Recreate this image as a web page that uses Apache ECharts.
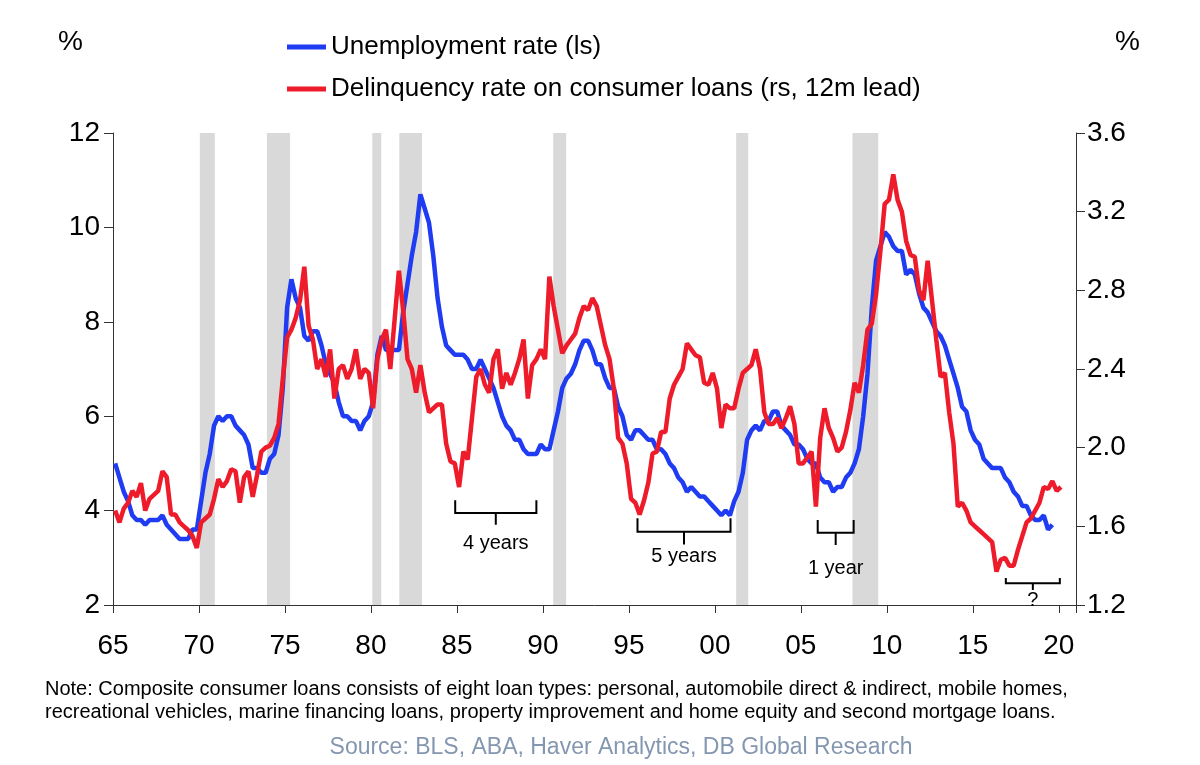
<!DOCTYPE html>
<html><head><meta charset="utf-8">
<script src="https://cdn.jsdelivr.net/npm/echarts@6/dist/echarts.min.js"></script>
<style>html,body{margin:0;padding:0;background:#fff}#c{width:1200px;height:765px}</style>
</head><body><div id="c"></div>
<script>
// ---- data ----
const FIRST_YEAR = 1965;             // first quarter of both series
const xTickLabels = ['65','70','75','80','85','90','95','00','05','10','15','20'];

// US unemployment rate, %, quarterly (left scale)
const unemployment = [
 5.0,4.7,4.4,4.2, 3.9,3.8,3.8,3.7, 3.8,3.8,3.8,3.9, 3.7,3.6,3.5,3.4, 3.4,3.4,3.6,3.6,
 4.2,4.8,5.2,5.8, 6.0,5.9,6.0,6.0, 5.8,5.7,5.6,5.4, 4.9,4.9,4.8,4.8, 5.1,5.2,5.6,6.6,
 8.3,8.9,8.5,8.3, 7.7,7.6,7.8,7.8, 7.5,7.1,6.9,6.7, 6.3,6.0,6.0,5.9, 5.9,5.7,5.9,6.0,
 6.3,7.3,7.7,7.4, 7.4,7.4,7.4,8.2, 8.8,9.4,9.9,10.7, 10.4,10.1,9.4,8.5, 7.9,7.5,7.4,7.3,
 7.3,7.3,7.2,7.0, 7.0,7.2,7.0,6.8, 6.6,6.3,6.0,5.8, 5.7,5.5,5.5,5.3, 5.2,5.2,5.2,5.4,
 5.3,5.3,5.7,6.1, 6.6,6.8,6.9,7.1, 7.4,7.6,7.6,7.4, 7.1,7.1,6.8,6.6, 6.6,6.2,6.0,5.6,
 5.5,5.7,5.7,5.6, 5.5,5.5,5.3,5.3, 5.2,5.0,4.9,4.7, 4.6,4.4,4.5,4.4, 4.3,4.3,4.2,4.1,
 4.0,3.9,4.0,3.9, 4.2,4.4,4.8,5.5, 5.7,5.8,5.7,5.9, 5.9,6.1,6.1,5.8, 5.7,5.6,5.4,5.4,
 5.3,5.1,5.0,5.0, 4.7,4.6,4.6,4.4, 4.5,4.5,4.7,4.8, 5.0,5.3,6.0,6.9, 8.3,9.3,9.6,9.9,
 9.8,9.6,9.5,9.5, 9.0,9.1,9.0,8.6, 8.3,8.2,8.0,7.8, 7.7,7.5,7.2,6.9, 6.6,6.2,6.1,5.7,
 5.5,5.4,5.1,5.0, 4.9,4.9,4.9,4.7, 4.6,4.4,4.3,4.1, 4.1,3.9,3.8,3.8, 3.9,3.6,3.7
];

// Delinquency rate on consumer loans, %, quarterly, 12m lead (right scale)
const delinquency = [
 1.68,1.62,1.69,1.72, 1.78,1.75,1.82,1.68, 1.74,1.76,1.78,1.88, 1.85,1.66,1.66,1.62, 1.60,1.58,1.55,1.49,
 1.62,1.64,1.66,1.74, 1.84,1.80,1.83,1.89, 1.88,1.72,1.85,1.88, 1.75,1.86,1.98,2.00, 2.01,2.05,2.12,2.35,
 2.56,2.60,2.66,2.75, 2.92,2.62,2.55,2.40, 2.45,2.36,2.50,2.25, 2.40,2.42,2.35,2.40, 2.50,2.35,2.40,2.38,
 2.20,2.45,2.55,2.60, 2.40,2.65,2.90,2.70, 2.45,2.40,2.28,2.42, 2.28,2.18,2.20,2.22, 2.22,2.02,1.93,1.92,
 1.80,1.98,1.94,2.15, 2.36,2.40,2.32,2.28, 2.45,2.50,2.30,2.38, 2.32,2.38,2.45,2.55, 2.25,2.42,2.45,2.50,
 2.45,2.87,2.72,2.60, 2.48,2.52,2.55,2.58, 2.66,2.72,2.70,2.76, 2.72,2.62,2.52,2.45, 2.30,2.05,2.02,1.92,
 1.74,1.72,1.66,1.73, 1.82,1.97,1.98,2.08, 2.08,2.25,2.32,2.36, 2.40,2.53,2.50,2.47, 2.46,2.33,2.32,2.38,
 2.30,2.10,2.22,2.20, 2.20,2.30,2.38,2.40, 2.42,2.50,2.40,2.18, 2.12,2.12,2.15,2.10, 2.15,2.21,2.12,1.92,
 1.92,1.95,1.98,1.70, 2.05,2.20,2.10,2.05, 1.98,2.00,2.08,2.19, 2.33,2.28,2.42,2.60, 2.63,2.78,3.00,3.24,
 3.26,3.39,3.26,3.20, 3.05,2.98,2.97,2.80, 2.75,2.95,2.75,2.55, 2.36,2.38,2.18,2.02, 1.70,1.72,1.68,1.62,
 1.60,1.58,1.56,1.54, 1.52,1.37,1.43,1.44, 1.40,1.40,1.48,1.55, 1.62,1.64,1.68,1.72, 1.80,1.79,1.83,1.78,
 1.80
];

// NBER recessions (start, end) in decimal years
const recessionStart = [1970.05, 1973.95, 1980.08, 1981.65, 1990.6, 2001.24, 2008.0];
const recessionEnd   = [1970.92, 1975.3, 1980.6, 1982.97, 1991.35, 2001.94, 2009.5];

// Lag brackets: x range (years), y levels on left scale
const bracketLabels = ['4 years', '5 years', '1 year', '?'];
const bracketFrom   = [1984.9, 1995.5, 2005.98, 2016.92];
const bracketTo     = [1989.62, 2000.91, 2008.07, 2020.06];
const bracketTop    = [4.22, 3.84, 3.80, 2.57];
const bracketLine   = [3.95, 3.55, 3.53, 2.46];
const bracketNub    = [3.70, 3.28, 3.27, 2.32];
const bracketText   = [3.30, 3.03, 2.78, 2.10];

const noteLines = [
 'Note: Composite consumer loans consists of eight loan types: personal, automobile direct & indirect, mobile homes,',
 'recreational vehicles, marine financing loans, property improvement and home equity and second mortgage loans.'
];
const sourceText = 'Source: BLS, ABA, Haver Analytics, DB Global Research';

// ---- chart ----
const BLUE = '#1f3cf2', RED = '#ee1c2b', AXIS = '#333333';
const FONT = '"Liberation Sans", Arial, sans-serif';
const qx = i => FIRST_YEAR + (i + 0.5) / 4;

const chart = echarts.init(document.getElementById('c'), null, {renderer: 'canvas'});
const option = {
  animation: false,
  backgroundColor: '#fff',
  textStyle: {fontFamily: FONT},
  grid: {left: 113, right: 124, top: 133, bottom: 160},
  legend: {
    orient: 'vertical', left: 282, top: 28, itemGap: 14,
    icon: 'rect', itemWidth: 39, itemHeight: 5,
    textStyle: {fontSize: 26, color: '#000', fontFamily: FONT, lineHeight: 28},
    data: ['Unemployment rate (ls)', 'Delinquency rate on consumer loans (rs, 12m lead)']
  },
  xAxis: {
    type: 'value', min: 1965, max: 2021, interval: 5,
    axisLine: {show: true, lineStyle: {color: AXIS, width: 1}},
    axisTick: {show: true, length: 8, lineStyle: {color: AXIS}},
    splitLine: {show: false},
    axisLabel: {
      fontSize: 28, color: '#000', margin: 27, fontFamily: FONT,
      formatter: v => { const k = (v - 1965) / 5; return Number.isInteger(k) ? (xTickLabels[k] || '') : ''; }
    }
  },
  yAxis: [
    {type: 'value', position: 'left', min: 2, max: 12, interval: 2,
     axisLine: {show: true, lineStyle: {color: AXIS}},
     axisTick: {show: true, length: 9, lineStyle: {color: AXIS}},
     splitLine: {show: false},
     axisLabel: {fontSize: 28, color: '#000', margin: 13, fontFamily: FONT}},
    {type: 'value', position: 'right', min: 1.2, max: 3.6, interval: 0.4,
     axisLine: {show: true, lineStyle: {color: AXIS}},
     axisTick: {show: true, length: 9, lineStyle: {color: AXIS}},
     splitLine: {show: false},
     axisLabel: {fontSize: 28, color: '#000', margin: 11, fontFamily: FONT, formatter: v => v.toFixed(1)}}
  ],
  series: [
    {type: 'line', name: 'recessions', data: [], silent: true,
     markArea: {silent: true, itemStyle: {color: '#d9d9d9'},
       data: recessionStart.map((s, i) => [{xAxis: s}, {xAxis: recessionEnd[i]}])}},
    {type: 'line', name: 'Unemployment rate (ls)', yAxisIndex: 0,
     data: unemployment.map((v, i) => [qx(i), v]),
     showSymbol: false, symbol: 'none', lineStyle: {width: 4.5, color: BLUE}, itemStyle: {color: BLUE}},
    {type: 'line', name: 'Delinquency rate on consumer loans (rs, 12m lead)', yAxisIndex: 1,
     data: delinquency.map((v, i) => [qx(i), v]),
     showSymbol: false, symbol: 'none', lineStyle: {width: 4.5, color: RED}, itemStyle: {color: RED}}
  ]
};
chart.setOption(option);

const px = (x, y) => chart.convertToPixel({xAxisIndex: 0, yAxisIndex: 0}, [x, y]);
const graphics = [];
graphics.push({type: 'text', left: 58, top: 28, style: {text: '%', font: '28px ' + FONT, fill: '#000'}});
graphics.push({type: 'text', left: 1115, top: 28, style: {text: '%', font: '28px ' + FONT, fill: '#000'}});
bracketLabels.forEach((lab, i) => {
  const a = px(bracketFrom[i], bracketTop[i]);
  const b = px(bracketFrom[i], bracketLine[i]);
  const xc = (bracketFrom[i] + bracketTo[i]) / 2;
  const c = px(xc, bracketLine[i]);
  const d = px(xc, bracketNub[i]);
  const e = px(bracketTo[i], bracketLine[i]);
  const f = px(bracketTo[i], bracketTop[i]);
  graphics.push({type: 'polyline', shape: {points: [a, b, c, d, c, e, f]},
    style: {stroke: '#000', lineWidth: 2, fill: null}, z: 10});
  const t = px(xc, bracketText[i]);
  graphics.push({type: 'text', x: t[0], y: t[1], z: 10,
    style: {text: lab, font: '20px ' + FONT, fill: '#000', align: 'center', verticalAlign: 'middle'}});
});
noteLines.forEach((line, i) => {
  graphics.push({type: 'text', left: 45, top: 679 + i * 23, style: {text: line, font: '20px ' + FONT, fill: '#000'}});
});
graphics.push({type: 'text', x: 621, y: 748, style: {text: sourceText, font: '23px ' + FONT, fill: '#8497b0', align: 'center', verticalAlign: 'middle'}});
chart.setOption({graphic: graphics});
</script></body></html>
